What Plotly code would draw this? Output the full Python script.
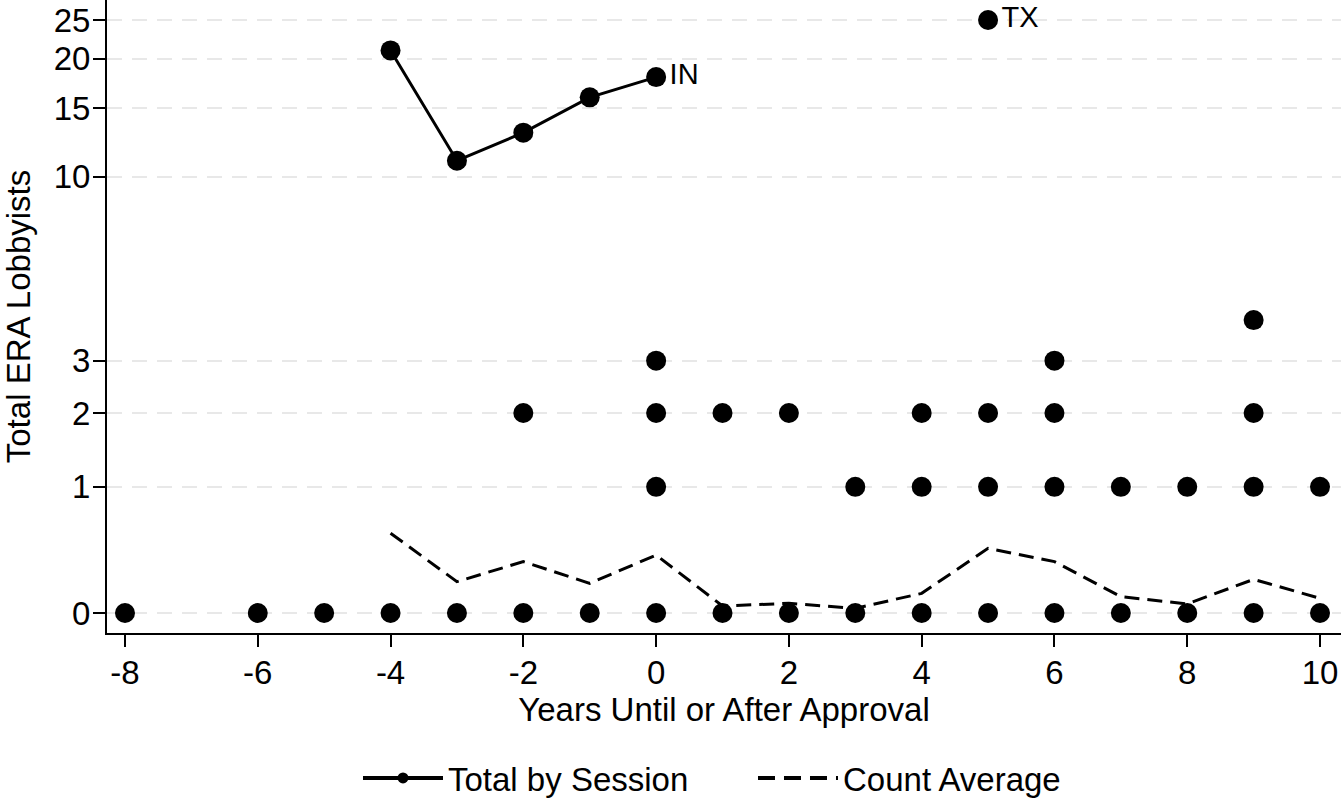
import numpy as np
import plotly.graph_objects as go

# --- data ---
dot_years = [-8, -6, -5, -4, -3, -2, -1, 0, 1, 2, 3, 4, 5, 6, 7, 8, 9, 10,
             0, 3, 4, 5, 6, 7, 8, 9, 10,
             -2, 0, 1, 2, 4, 5, 6, 9,
             0, 6,
             9]
dot_totals = [0] * 18 + [1] * 9 + [2] * 8 + [3] * 2 + [4]

in_years = [-4, -3, -2, -1, 0]
in_totals = [21, 11, 13, 16, 18]
in_labels = ["", "", "", "", "IN"]

tx_years = [5]
tx_totals = [25]
tx_labels = ["TX"]

avg_years = [-4, -3, -2, -1, 0, 1, 2, 3, 4, 5, 6, 7, 8, 9, 10]
avg_values = [0.55, 0.188, 0.326, 0.177, 0.375, 0.039, 0.055, 0.026, 0.114,
              0.427, 0.326, 0.094, 0.051, 0.203, 0.084]

y_ticks = [0, 1, 2, 3, 10, 15, 20, 25]
x_ticks = [-8, -6, -4, -2, 0, 2, 4, 6, 8, 10]

FONT = "Liberation Sans, Arial, sans-serif"
shift = 1  # log(y+1) scale

fig = go.Figure()

fig.add_trace(go.Scatter(
    x=dot_years, y=np.array(dot_totals) + shift, mode="markers",
    marker=dict(color="black", size=20), showlegend=False, hoverinfo="skip"))

fig.add_trace(go.Scatter(
    x=in_years, y=np.array(in_totals) + shift, mode="lines+markers+text",
    text=in_labels, textposition="middle right",
    textfont=dict(size=29, color="black", family=FONT),
    line=dict(color="black", width=3), marker=dict(color="black", size=20),
    name="Total by Session", legendgroup="tot", showlegend=False))

# legend entry (smaller marker, as in the reference key)
fig.add_trace(go.Scatter(
    x=[None], y=[None], mode="lines+markers",
    line=dict(color="black", width=4), marker=dict(color="black", size=11),
    name="Total by Session", legendgroup="tot"))

fig.add_trace(go.Scatter(
    x=tx_years, y=np.array(tx_totals) + shift, mode="markers+text",
    text=tx_labels, textposition="middle right",
    textfont=dict(size=29, color="black", family=FONT),
    marker=dict(color="black", size=20), showlegend=False))

fig.add_trace(go.Scatter(
    x=avg_years, y=np.array(avg_values) + shift, mode="lines",
    line=dict(color="black", width=3, dash="15px,8px"),
    name="Count Average", legendgroup="avg", showlegend=False))

fig.add_trace(go.Scatter(
    x=[None], y=[None], mode="lines",
    line=dict(color="black", width=4, dash="17px,9px"),
    name="Count Average", legendgroup="avg"))

fig.update_layout(
    width=1341, height=799,
    paper_bgcolor="white", plot_bgcolor="white",
    margin=dict(l=107, r=0, t=0, b=166, autoexpand=False),
    font=dict(family=FONT, color="black", size=32),
    legend=dict(orientation="h", x=0.2034, xanchor="left",
                yref="container", y=(799 - 778) / 799, yanchor="middle",
                font=dict(size=33), itemwidth=80, entrywidth=300, entrywidthmode="pixels"),
    showlegend=True,
)

fig.update_xaxes(
    range=[-8.271, 10.316], tickvals=x_ticks, ticktext=[str(v) for v in x_ticks],
    showgrid=False, zeroline=False, showline=True, linecolor="black", linewidth=2,
    ticks="outside", ticklen=12, tickwidth=2, tickcolor="black", automargin=False,
    tickfont=dict(size=33), ticklabelstandoff=-3,
    title=dict(text="Years Until or After Approval", font=dict(size=33), standoff=6))

fig.update_yaxes(
    type="log", range=[-0.0477, 1.4627],
    tickvals=[v + shift for v in y_ticks], ticktext=[str(v) for v in y_ticks],
    showgrid=True, gridcolor="#e8e8e8", gridwidth=2, griddash="15px,10px",
    zeroline=False, showline=True, linecolor="black", linewidth=2,
    ticks="outside", ticklen=12, tickwidth=2, tickcolor="black", automargin=False,
    tickfont=dict(size=33), ticklabelstandoff=-4,
    title=dict(text="Total ERA Lobbyists", font=dict(size=33), standoff=20))

fig.write_html("out.html", config={"displayModeBar": False},
               post_script="document.body.style.margin='0';document.body.style.overflow='hidden';")
